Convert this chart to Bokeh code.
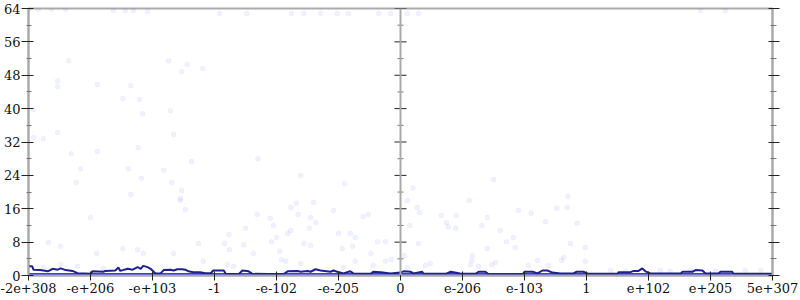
from bokeh.plotting import figure
from bokeh.models import LinearAxis, FixedTicker, Span, Range1d
from bokeh.embed import file_html
from bokeh.resources import INLINE

# ---- axis ticks / labels ----
x_ticks = [-6, -5, -4, -3, -2, -1, 0, 1, 2, 3, 4, 5, 6]
x_labels = ["-2e+308", "-e+206", "-e+103", "-1", "-e-102", "-e-205", "0",
            "e-206", "e-103", "1", "e+102", "e+205", "5e+307"]
y_ticks = [0, 8, 16, 24, 32, 40, 48, 56, 64]
y_minor = [4, 12, 20, 28, 36, 44, 52, 60]

# ---- faint scatter samples (axis units, value) ----
pts_x = [-6.0, -5.84, -5.63, -5.40, -4.63, -4.44, -4.31, -4.08,
         -2.92, -2.48, -1.76, -1.56, -1.29, -1.02, -0.84, -0.35, -0.16, 0.11, 0.29, 4.84, 5.24,
         -5.35, -3.74, -3.44, -3.53, -3.19, -5.53, -5.53, -4.89, -4.35, -4.48, -4.21,
         -5.92, -4.16, -3.71, -5.92, -5.76, -5.53, -3.66, -5.31, -4.89, -4.23, -3.37,
         -5.16, -4.39, -3.82, -5.23, -4.18, -3.69, -3.53, -4.35, -3.55,
         -5.0, -5.68, -5.48, -4.90, -4.48, -4.24, -4.15, -3.66, -3.47, -3.55, -3.26,
         -5.21, -5.48, -5.76, -4.79,
         -1.77, -1.68, -1.40, -1.08, -0.60, -0.52, -2.31, -1.65, -1.45, -2.10, -1.37,
         -2.05, -2.50, -1.77, -1.82, -1.47, -1.0, -0.81, -0.73, -2.77, -2.08, -2.00,
         -2.84, -2.53, -2.76, -2.37, -1.95, -1.56, -1.45, -0.94, -0.77, -0.48, -0.37,
         -0.24, -1.92, -1.85, -0.73, -0.24, -0.15, -2.79, -2.69, -1.61, -0.92, -0.44, -3.18,
         0.11, 0.27, 0.31, 0.66, 0.90, 1.11, 1.40, 1.90, 2.11, 2.52, 2.69, 2.34, 2.85,
         0.15, 0.74, 0.77, 1.31, 1.61, 0.89, 0.29, 0.06, 1.40, 1.71, 1.82, 1.85, 2.74,
         2.98, 1.16, 1.15, 1.13, 2.21, 2.39, 2.60, 2.63, 2.98, 1.53, 1.47, 0.48, 0.40,
         0.11, 1.26, 2.06,
         3.39, 3.63, 4.19, 4.35, 4.68, 5.08, 5.56, 5.81,
         -1.61, -2.30, -0.90, 0.20, 1.50, 2.70]
pts_y = [63.8, 63.8, 63.8, 63.8, 63.5, 63.5, 63.5, 63.3,
         62.8, 62.8, 62.8, 62.8, 62.8, 62.8, 62.8, 62.8, 62.8, 62.8, 62.8, 63.5, 63.5,
         51.5, 51.5, 50.6, 48.9, 49.6, 46.7, 45.3, 45.8, 45.5, 42.4, 42.2,
         39.8, 38.8, 39.5, 33.1, 32.8, 34.3, 33.8, 29.2, 29.7, 30.7, 27.3,
         25.6, 25.6, 25.2, 22.3, 23.3, 22.3, 20.4, 19.4, 18.5,
         13.9, 7.9, 7.0, 5.3, 6.5, 6.2, 5.3, 5.3, 15.8, 18.0, 7.7,
         2.2, 2.6, 1.9, 1.7,
         16.3, 17.3, 17.5, 15.6, 14.1, 14.6, 14.6, 14.6, 13.9, 13.7, 12.7,
         12.0, 11.3, 10.8, 10.1, 11.3, 10.1, 10.1, 9.1, 9.8, 8.1, 9.1,
         7.7, 7.4, 6.2, 5.3, 5.8, 7.7, 7.2, 6.5, 7.0, 5.3, 8.1,
         8.1, 3.8, 3.4, 3.4, 3.4, 3.8, 2.6, 2.2, 2.9, 1.9, 2.4, 3.4,
         18.0, 16.3, 15.1, 14.4, 14.4, 18.0, 13.9, 15.6, 14.9, 16.1, 16.3, 12.9, 12.5,
         12.0, 12.7, 11.7, 12.0, 10.8, 11.3, 7.7, 4.8, 6.5, 8.1, 9.1, 6.7, 7.7,
         6.7, 4.8, 3.6, 2.6, 3.6, 2.4, 3.6, 4.3, 3.4, 3.1, 2.6, 2.9, 2.4,
         1.9, 2.2, 2.4,
         1.2, 1.0, 1.2, 1.0, 1.2, 1.0, 1.2, 1.2,
         24.0, 28.0, 22.0, 21.0, 23.0, 19.0]

# ---- dark summary line ----
line_x = [-6.0, -5.94, -5.92, -5.81, -5.69, -5.61, -5.53, -5.48, -5.40, -5.29, -5.21,
          -5.0, -4.97, -4.79, -4.76, -4.60, -4.55, -4.52, -4.40, -4.32, -4.24, -4.19,
          -4.15, -4.08, -4.03, -3.98, -3.95, -3.87, -3.82, -3.71, -3.66, -3.60, -3.52,
          -3.47, -3.42, -3.34, -3.23, -3.15, -3.06, -3.02, -2.85, -2.82, -2.61, -2.55,
          -2.45, -2.39, -1.89, -1.82, -1.66, -1.61, -1.50, -1.45, -1.37, -1.29, -1.13,
          -1.08, -1.02, -0.92, -0.81, -0.76, -0.48, -0.44, -0.32, -0.16, 0.0, 0.05,
          0.16, 0.21, 0.35, 0.37, 0.73, 0.81, 0.92, 0.97, 1.21, 1.26, 1.37, 1.42, 1.97,
          2.0, 2.13, 2.21, 2.29, 2.37, 2.45, 2.58, 2.79, 2.84, 2.95, 3.03, 3.50, 3.52,
          3.71, 3.76, 3.84, 3.90, 3.95, 4.03, 4.52, 4.55, 4.71, 4.76, 4.87, 4.92, 5.13,
          5.16, 5.35, 5.37, 6.0]
line_y = [2.2, 2.2, 1.4, 1.3, 1.0, 1.6, 1.4, 1.7, 1.3, 1.1, 0.55,
          0.4, 1.0, 0.9, 1.1, 1.2, 1.9, 1.1, 1.6, 1.4, 2.0, 1.6,
          2.3, 2.0, 1.6, 0.9, 0.5, 0.5, 1.3, 1.4, 1.2, 1.5, 1.5,
          1.4, 1.0, 0.8, 0.8, 0.55, 0.55, 1.2, 1.2, 0.4, 0.3, 1.2,
          1.0, 0.4, 0.3, 1.0, 1.1, 0.9, 1.1, 0.9, 1.5, 1.2, 0.9,
          1.2, 0.9, 0.5, 1.0, 0.5, 0.4, 0.9, 0.8, 0.5, 0.7, 1.0,
          0.9, 0.5, 0.9, 0.4, 0.4, 0.9, 0.6, 0.4, 0.4, 0.9, 0.9, 0.3, 0.3,
          0.9, 0.9, 0.5, 1.2, 1.2, 0.7, 0.5, 0.5, 0.9, 0.9, 0.4, 0.4, 0.8,
          0.8, 1.1, 1.1, 1.7, 1.0, 0.5, 0.5, 0.9, 0.9, 1.3, 1.2, 0.5, 0.5,
          0.9, 0.9, 0.4, 0.4]

# ---- bright low band ----
band_x = [-6.0, 6.0]
band_top = [0.6, 0.6]

AXIS_GRAY = "#aaaaaa"
FONT = "DejaVu Serif"

p = figure(width=800, height=300, x_range=Range1d(-6, 6), y_range=Range1d(0, 64),
           output_backend="svg", toolbar_location=None,
           min_border_left=28, min_border_right=28, min_border_top=8, min_border_bottom=25)
p.grid.visible = False
p.outline_line_color = AXIS_GRAY
p.outline_line_width = 2
p.background_fill_color = "white"
p.border_fill_color = "white"

# x axis
xa = p.xaxis[0]
xa.ticker = FixedTicker(ticks=x_ticks)
xa.major_label_overrides = {t: s for t, s in zip(x_ticks, x_labels)}
xa.axis_line_color = AXIS_GRAY
xa.axis_line_width = 2
xa.major_tick_line_color = "#222222"
xa.major_tick_in = 4
xa.major_tick_out = 5
xa.minor_tick_line_color = None
xa.major_label_text_font = FONT
xa.major_label_text_font_size = "13px"
xa.major_label_text_color = "#111111"
xa.major_label_standoff = 2

# left y axis
ya = p.yaxis[0]
ya.ticker = FixedTicker(ticks=y_ticks, minor_ticks=y_minor)
ya.axis_line_color = AXIS_GRAY
ya.axis_line_width = 2
ya.major_tick_line_color = "#222222"
ya.major_tick_in = 5
ya.major_tick_out = 7
ya.minor_tick_line_color = "#777777"
ya.minor_tick_in = 3
ya.minor_tick_out = 2
ya.major_label_text_font = FONT
ya.major_label_text_font_size = "13px"
ya.major_label_text_color = "#111111"
ya.major_label_standoff = 1

# right y axis (ticks only, empty labels)
ra = LinearAxis(ticker=FixedTicker(ticks=y_ticks, minor_ticks=y_minor))
ra.major_label_overrides = {t: "" for t in y_ticks}
ra.axis_line_color = AXIS_GRAY
ra.axis_line_width = 2
ra.major_tick_line_color = "#222222"
ra.major_tick_in = 4
ra.major_tick_out = 7
ra.minor_tick_line_color = "#777777"
ra.minor_tick_in = 2
ra.minor_tick_out = 4
ra.major_label_standoff = 0
p.add_layout(ra, "right")

# data
p.scatter(pts_x, pts_y, size=5, fill_color="blue", fill_alpha=0.06,
          line_color="blue", line_alpha=0.03)
p.varea(x=band_x, y1=[0, 0], y2=band_top, fill_color="#3c3ce8", fill_alpha=1.0)
p.line(line_x, line_y, line_color="#1f1f8f", line_width=2)

# center vertical axis with ticks
p.add_layout(Span(location=0, dimension="height", line_color=AXIS_GRAY, line_width=2))
p.scatter([0] * len(y_ticks), y_ticks, marker="dash", size=12,
          line_color="#222222", line_width=1)
p.scatter([0] * len(y_minor), y_minor, marker="dash", size=6,
          line_color="#777777", line_width=1)

open("out.html", "w").write(file_html(p, INLINE))
